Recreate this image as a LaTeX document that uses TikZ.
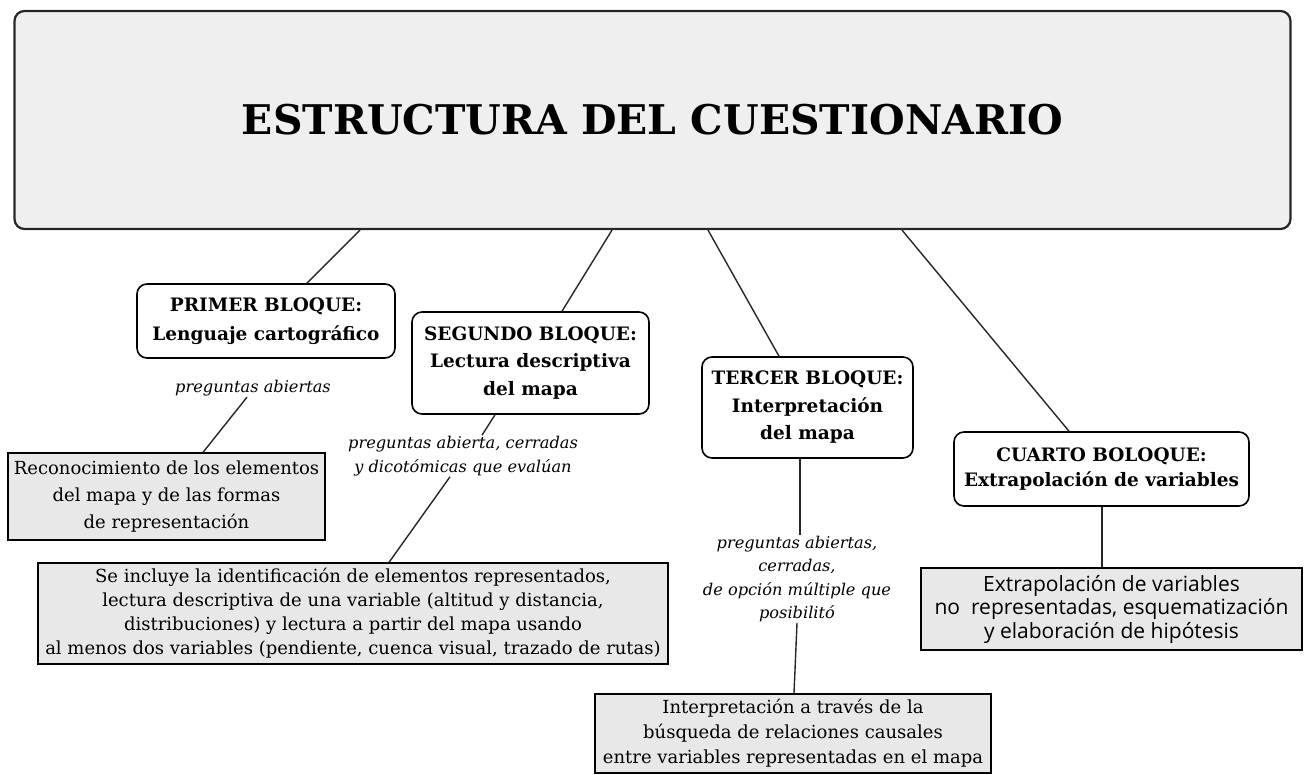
\documentclass[tikz,border=0pt]{standalone}
\usepackage{fontspec}
\setmainfont{DejaVu Serif}
\newfontfamily\boxsans{Open Sans}
\usetikzlibrary{calc}
\definecolor{titlefill}{HTML}{EFEFEF}
\definecolor{detfill}{HTML}{E8E8E8}
\tikzset{
  titlebox/.style={draw=black!85, line width=2.2pt, fill=titlefill, rounded corners=10, minimum width=1276, minimum height=218, inner sep=0},
  blockbox/.style={draw=black, line width=1.6pt, fill=white, rounded corners=10, align=center, inner sep=0, font=\fontsize{18.5}{27.5}\selectfont\bfseries},
  detbox/.style={draw=black, line width=1.3pt, fill=detfill, align=center, inner sep=0, font=\fontsize{18}{24}\selectfont},
  qtext/.style={align=center, inner sep=1pt, font=\fontsize{16.2}{23.3}\selectfont\itshape},
  conn/.style={line width=1.4pt, black!85},
}
\begin{document}
\begin{tikzpicture}[x=1pt,y=-1pt]
\useasboundingbox (0,0) rectangle (1306,774);
\node[titlebox] (title) at (652.5,120) {\fontsize{40.9}{48}\selectfont\bfseries ESTRUCTURA DEL CUESTIONARIO};

\node[blockbox, minimum width=258, minimum height=74, font=\fontsize{18.5}{29}\selectfont\bfseries] (p1) at (266,321) {PRIMER BLOQUE:\\Lenguaje cartográfico};
\node[qtext] (p1q) at (253,388) {preguntas abiertas};
\node[detbox, minimum width=317, minimum height=87, font=\fontsize{18}{27}\selectfont] (p1d) at (166.5,496.5) {Reconocimiento de los elementos\\del mapa y de las formas\\de representación};

\node[blockbox, minimum width=237, minimum height=102] (s2) at (530.5,363) {SEGUNDO BLOQUE:\\Lectura descriptiva\\del mapa};
\node[qtext] (s2q) at (463,456) {preguntas abierta, cerradas\\y dicotómicas que evalúan};
\node[detbox, minimum width=630, minimum height=101] (s2d) at (353,613.5) {Se incluye la identificación de elementos representados,\\lectura descriptiva de una variable (altitud y distancia,\\distribuciones) y lectura a partir del mapa usando\\al menos dos variables (pendiente, cuenca visual, trazado de rutas)};

\node[blockbox, minimum width=211, minimum height=101] (t3) at (807.5,407.5) {TERCER BLOQUE:\\Interpretación\\del mapa};
\node[qtext] (t3q) at (797,579) {preguntas abiertas,\\cerradas,\\de opción múltiple que\\posibilitó};
\node[detbox, minimum width=396, minimum height=79, font=\fontsize{18}{25}\selectfont] (t3d) at (793,733.5) {Interpretación a través de la\\búsqueda de relaciones causales\\entre variables representadas en el mapa};

\node[blockbox, minimum width=295, minimum height=74, font=\fontsize{18.5}{25}\selectfont\bfseries] (c4) at (1101.5,469) {CUARTO BOLOQUE:\\Extrapolación de variables};
\node[detbox, minimum width=381, minimum height=82, font=\boxsans\fontsize{21}{23.5}\selectfont] (c4d) at (1111.5,609) {Extrapolación de variables\\no\ \ representadas, esquematización\\y elaboración de hipótesis};

\draw[conn] ($(title.south)+(-292.5,0)$) -- ($(p1.north)+(41,0)$);
\draw[conn] ($(p1q.south)+(-6,0)$) -- ($(p1d.north)+(36.5,0)$);
\draw[conn] ($(title.south)+(-40.5,0)$) -- ($(s2.north)+(31.5,0)$);
\draw[conn] ($(s2.south)+(-35.5,0)$) -- ($(s2q.north)+(19,0)$);
\draw[conn] ($(s2q.south)+(-13,0)$) -- ($(s2d.north)+(36,0)$);
\draw[conn] ($(title.south)+(55.5,0)$) -- ($(t3.north)+(-28.5,0)$);
\draw[conn] ($(t3.south)+(-7.5,0)$) -- ($(t3q.north)+(3,0)$);
\draw[conn] ($(t3q.south)+(0,0)$) -- ($(t3d.north)+(1,0)$);
\draw[conn] ($(title.south)+(249.5,0)$) -- ($(c4.north)+(-32.5,0)$);
\draw[conn] ($(c4.south)+(0.5,0)$) -- ($(c4d.north)+(-9.5,0)$);
\end{tikzpicture}
\end{document}
